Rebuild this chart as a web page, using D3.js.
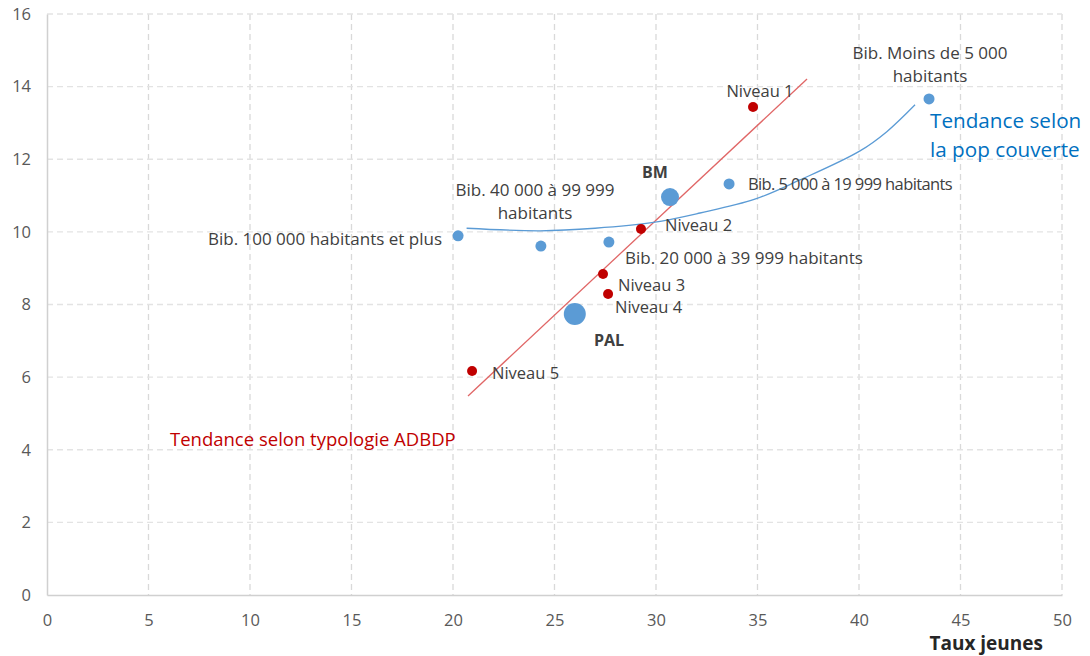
<!DOCTYPE html>
<html><head><meta charset="utf-8">
<script src="https://cdn.jsdelivr.net/npm/d3@7/dist/d3.min.js"></script>
<style>body{margin:0;background:#fff}svg{display:block;font-family:"Open Sans",sans-serif}</style>
</head><body><svg id="c" width="1090" height="656"></svg>
<script>
const xTicks = [0,5,10,15,20,25,30,35,40,45,50];
const yTicks = [0,2,4,6,8,10,12,14,16];
const popNames = ["Bib. 100 000 habitants et plus","Bib. 40 000 à 99 999 habitants","Bib. 20 000 à 39 999 habitants","Bib. 5 000 à 19 999 habitants","Bib. Moins de 5 000 habitants","BM","PAL"];
const popX = [20.25,24.33,27.68,33.6,43.45,30.69,26.0];
const popY = [9.89,9.61,9.72,11.32,13.66,10.96,7.74];
const popR = [5.5,5.5,5.5,5.5,5.5,9,11];
const nivNames = ["Niveau 1","Niveau 2","Niveau 3","Niveau 4","Niveau 5"];
const nivX = [34.78,29.26,27.39,27.64,20.94];
const nivY = [13.44,10.08,8.84,8.29,6.17];
const redTrendX = [20.74,37.44];
const redTrendY = [5.48,14.21];
const blueTrendX = [20.67,24.29,27.0,29.87,32.17,34.87,37.09,40.05,41.37,42.76];
const blueTrendY = [10.10,10.03,10.10,10.26,10.52,10.90,11.43,12.23,12.76,13.50];

const svg = d3.select("#c");
const L=47,R=1062,T=14,B=595;
const x = d3.scaleLinear().domain([0,50]).range([L,R]);
const y = d3.scaleLinear().domain([0,16]).range([B,T]);

// grid
svg.append("g").selectAll("line").data(xTicks.filter(d=>d>0)).join("line")
  .attr("x1",d=>x(d)).attr("x2",d=>x(d)).attr("y1",T).attr("y2",B)
  .attr("stroke","#d9d9d9").attr("stroke-dasharray","6,4").attr("stroke-width",1.3);
svg.append("g").selectAll("line").data(yTicks.filter(d=>d>0)).join("line")
  .attr("x1",L).attr("x2",R).attr("y1",d=>y(d)).attr("y2",d=>y(d))
  .attr("stroke","#e3e3e3").attr("stroke-dasharray","6,4").attr("stroke-width",1.3);

// axes
const xa = svg.append("g").attr("transform",`translate(0,${B})`).call(d3.axisBottom(x).tickValues(xTicks).tickSize(0).tickPadding(19));
const ya = svg.append("g").attr("transform",`translate(${L},0)`).call(d3.axisLeft(y).tickValues(yTicks).tickSize(0).tickPadding(16));
[xa,ya].forEach(a=>{a.select(".domain").attr("stroke","#d0d0d0").attr("stroke-width",1.5);
  a.selectAll("text").attr("fill","#595959").attr("font-size",16.5).attr("font-family","'Open Sans',sans-serif");});

svg.append("text").attr("x",1043).attr("y",650).attr("text-anchor","end")
  .attr("font-weight","bold").attr("font-size",19).attr("fill","#262626").text("Taux jeunes");

// trend lines
svg.append("path").attr("d",d3.line().x(d=>x(d[0])).y(d=>y(d[1]))(redTrendX.map((v,i)=>[v,redTrendY[i]])))
  .attr("stroke","#e06666").attr("stroke-width",1.3).attr("fill","none");
svg.append("path").attr("d",d3.line().curve(d3.curveCatmullRom).x(d=>x(d[0])).y(d=>y(d[1]))(blueTrendX.map((v,i)=>[v,blueTrendY[i]])))
  .attr("stroke","#5B9BD5").attr("stroke-width",1.3).attr("fill","none");

// points
svg.append("g").selectAll("circle").data(popX).join("circle")
  .attr("cx",d=>x(d)).attr("cy",(d,i)=>y(popY[i])).attr("r",(d,i)=>popR[i]).attr("fill","#5B9BD5");
svg.append("g").selectAll("circle").data(nivX).join("circle")
  .attr("cx",d=>x(d)).attr("cy",(d,i)=>y(nivY[i])).attr("r",5).attr("fill","#C00000");

// labels
const lab = (tx,ty,t,anchor,opts={})=>svg.append("text").attr("x",tx).attr("y",ty).attr("text-anchor",anchor)
  .attr("font-size",opts.size||17).attr("fill",opts.fill||"#404040").attr("font-weight",opts.bold?"bold":"normal")
  .attr("letter-spacing",opts.ls||0).text(t);
lab(930,59,"Bib. Moins de 5 000","middle");
lab(930,82,"habitants","middle");
lab(760,97,"Niveau 1","middle",{size:16.5});
lab(655,178,"BM","middle",{bold:true,size:16});
lab(748,190,"Bib. 5 000 à 19 999 habitants","start",{size:16.5,ls:-0.6});
lab(535,196,"Bib. 40 000 à 99 999","middle");
lab(535,219,"habitants","middle");
lab(665,231,"Niveau 2","start",{size:16.5});
lab(442,245,"Bib. 100 000 habitants et plus","end");
lab(625,264,"Bib. 20 000 à 39 999 habitants","start");
lab(618,291,"Niveau 3","start",{size:16.5});
lab(615,313,"Niveau 4","start",{size:16.5});
lab(594,346,"PAL","start",{bold:true,size:16});
lab(492,379,"Niveau 5","start",{size:16.5});
lab(170,446,"Tendance selon typologie ADBDP","start",{fill:"#C00000",size:18.5});
lab(930,128,"Tendance selon","start",{fill:"#0070C0",size:20.7});
lab(930,157,"la pop couverte","start",{fill:"#0070C0",size:20.7});
</script></body></html>
